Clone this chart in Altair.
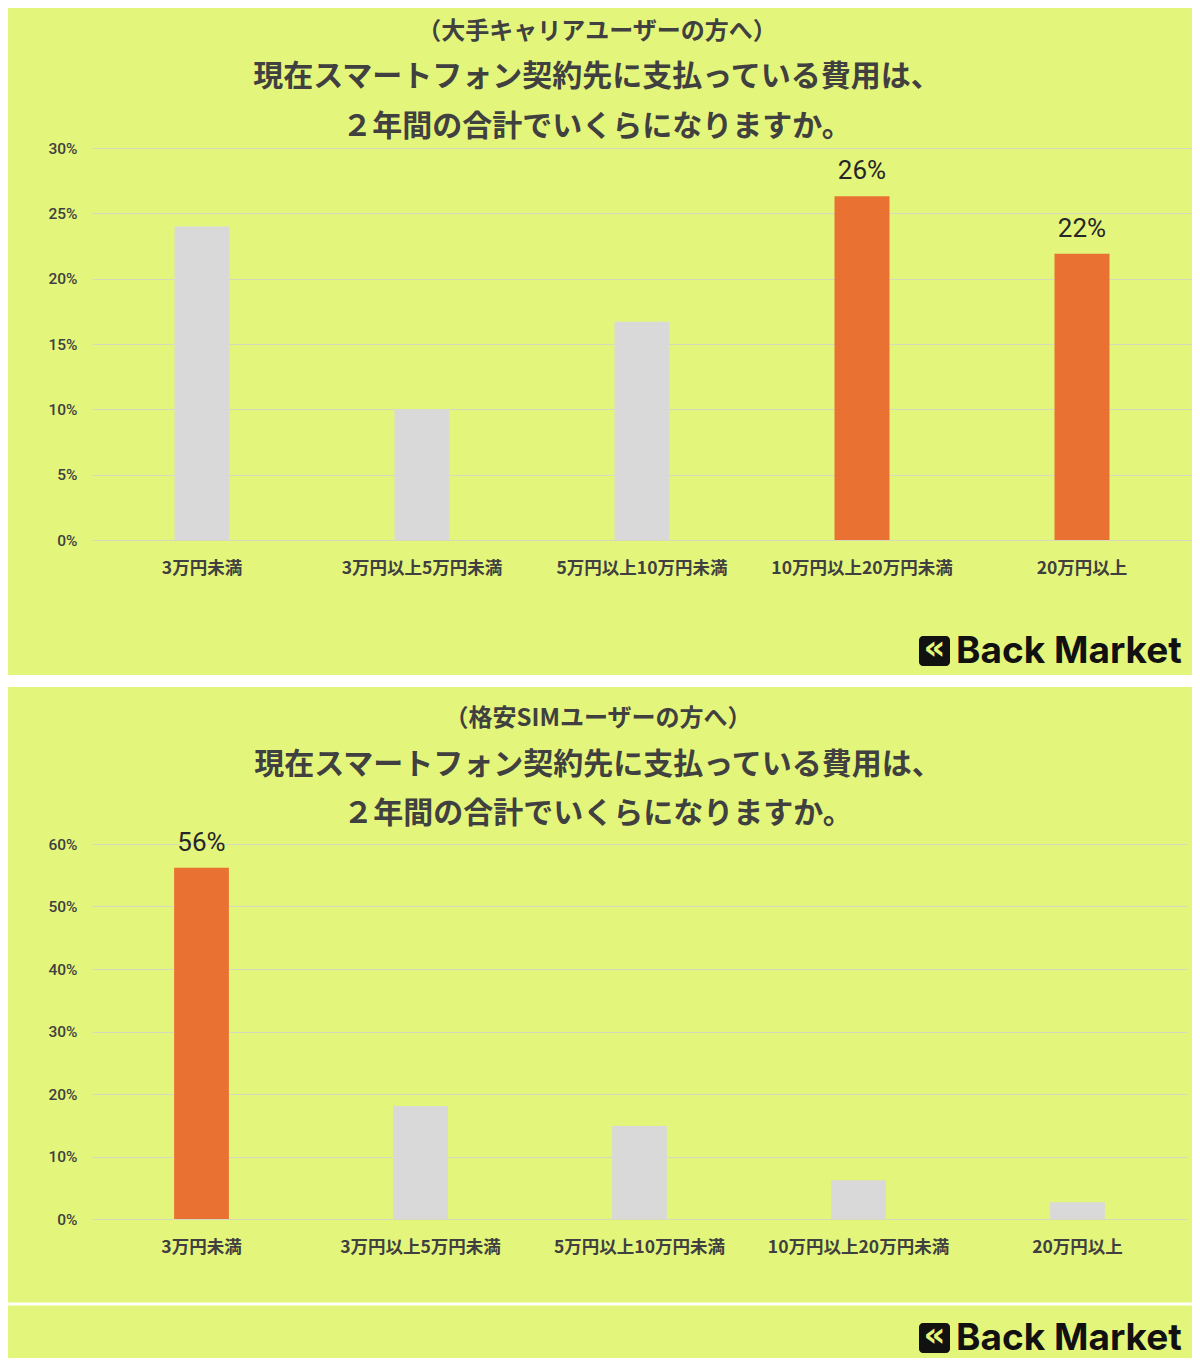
import altair as alt
import pandas as pd

# ---------------- data ----------------
categories = ["3万円未満", "3万円以上5万円未満", "5万円以上10万円未満", "10万円以上20万円未満", "20万円以上"]

carrier_values = [0.240, 0.100, 0.167, 0.263, 0.219]
carrier_highlight = [False, False, False, True, True]
carrier_ticks = [0, 0.05, 0.10, 0.15, 0.20, 0.25, 0.30]
carrier_title = "（大手キャリアユーザーの方へ）"

mvno_values = [0.562, 0.181, 0.149, 0.062, 0.027]
mvno_highlight = [True, False, False, False, False]
mvno_ticks = [0, 0.10, 0.20, 0.30, 0.40, 0.50, 0.60]
mvno_title = "（格安SIMユーザーの方へ）"

question_lines = ["現在スマートフォン契約先に支払っている費用は、", "２年間の合計でいくらになりますか。"]
logo_text = "Back Market"
logo_icon = "«"

# ---------------- style ----------------
BG = "#e4f57b"
ORANGE = "#e97132"
GRAY = "#d9d9d9"
GRID = "#d6d9bf"
TEXT = "#404040"
JP = "Noto Sans CJK JP"
NUM = "Roboto"


def panel(values, highlight, ticks, title, width, height, title_x, title_ys,
          sep_y, sep_w, logo_y, top_edge):
    df = pd.DataFrame({"cat": categories, "v": values, "hl": highlight})
    df["label"] = [f"{round(v * 100)}%" if h else "" for v, h in zip(values, highlight)]

    x = alt.X(
        "cat:N", sort=categories,
        scale=alt.Scale(paddingInner=0.75, paddingOuter=0.375),
        axis=alt.Axis(title=None, labelAngle=0, ticks=False, domain=False, grid=False,
                      labelPadding=19, labelFontSize=17.5, labelFont=JP, labelLimit=400,
                      labelFontWeight="bold", labelColor=TEXT),
    )
    y = alt.Y(
        "v:Q",
        scale=alt.Scale(domain=[ticks[0], ticks[-1]], nice=False),
        axis=alt.Axis(title=None, values=ticks, format=".0%", grid=True, gridColor=GRID,
                      gridWidth=1, ticks=False, domain=False, labelPadding=15,
                      labelFontSize=15.5, labelFont=NUM, labelFontWeight=500,
                      labelColor=TEXT),
    )

    base = alt.Chart(df)
    bars = base.mark_bar().encode(
        x=x, y=y,
        color=alt.condition("datum.hl", alt.value(ORANGE), alt.value(GRAY)),
    )
    labels = base.mark_text(baseline="alphabetic", dy=-17, fontSize=26, font=NUM,
                            color="#262626").encode(x=x, y=y, text="label:N")

    texts = pd.DataFrame({"t": [title, question_lines[0], question_lines[1],
                                logo_text, logo_icon]})
    deco = alt.Chart(texts)

    def line(i, yv, **kw):
        return deco.transform_filter(f"datum.t == {repr(texts.t[i])}").mark_text(
            baseline="middle", **kw).encode(
            x=alt.value(title_x), y=alt.value(yv), text="t:N")

    t0 = line(0, title_ys[0], font=JP, fontSize=24, fontWeight="bold",
              color=TEXT, align="center")
    t1 = line(1, title_ys[1], font=JP, fontSize=30, fontWeight="bold",
              color=TEXT, align="center")
    t2 = line(2, title_ys[2], font=JP, fontSize=30, fontWeight="bold",
              color=TEXT, align="center")

    one = deco.transform_filter(f"datum.t == {repr(logo_text)}")
    sep = one.mark_rect(color="white").encode(
        x=alt.value(-84), x2=alt.value(1100),
        y=alt.value(sep_y - sep_w / 2), y2=alt.value(sep_y + sep_w / 2))
    edge = one.mark_rect(color=BG, opacity=0).encode(
        x=alt.value(0), x2=alt.value(10),
        y=alt.value(-top_edge), y2=alt.value(-top_edge + 1))
    icon = one.mark_rect(color="#111111", cornerRadius=4).encode(
        x=alt.value(827), x2=alt.value(858),
        y=alt.value(logo_y - 15), y2=alt.value(logo_y + 15))
    chev = deco.transform_filter(f"datum.t == {repr(logo_icon)}").mark_text(
        fontSize=34, fontWeight="bold", font="DejaVu Sans", color=BG,
        baseline="middle", align="center").encode(
        x=alt.value(842.5), y=alt.value(logo_y - 2), text="t:N")
    name = one.mark_text(fontSize=37, fontWeight="bold", font="Inter", color="#111111",
                         align="left", baseline="middle").encode(
        x=alt.value(864), y=alt.value(logo_y + 1), text="t:N")

    return alt.layer(bars, labels, t0, t1, t2, sep, edge, icon, chev, name).properties(
        width=width, height=height)


top = panel(carrier_values, carrier_highlight, carrier_ticks, carrier_title,
            1100, 392, 505, [-116, -71, -21], 533, 12, 503, 140)
bottom = panel(mvno_values, mvno_highlight, mvno_ticks, mvno_title,
               1095, 375, 506, [-125, -79, -30], 460, 3, 494, 157)

chart = alt.vconcat(top, bottom, spacing=0).properties(
    background=BG,
    padding={"left": 0, "top": 0, "right": 0, "bottom": 1},
).configure_view(stroke=None)

chart.save("out.html", embed_options={"renderer": "svg", "actions": False})
